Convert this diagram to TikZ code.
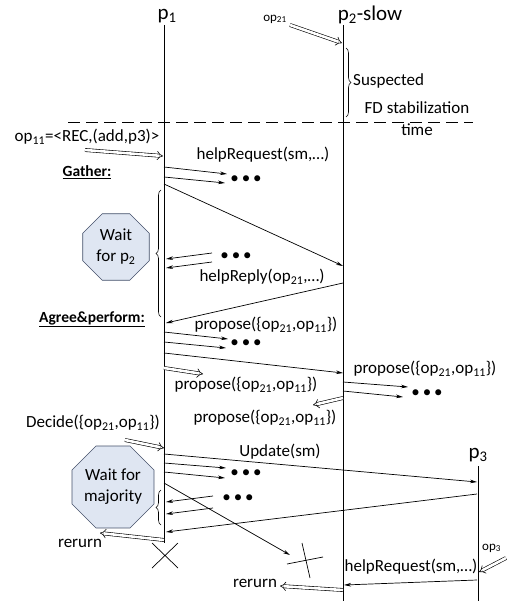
\documentclass[tikz,border=0pt]{standalone}
\usepackage{fontspec}
\setmainfont{Carlito}
\usetikzlibrary{arrows.meta,shapes.geometric,decorations.pathreplacing}
\definecolor{waitfill}{HTML}{DFE6F2}
\definecolor{waitborder}{HTML}{44506A}
\tikzset{
  msg/.style={->,line width=0.7pt},
  inp/.style={double,double distance=2.6pt,line width=0.6pt,-{Implies[scale=1.4]}},
  life/.style={line width=0.7pt},
  txt/.style={inner sep=0pt,font=\fontsize{17}{20}\selectfont},
  small/.style={inner sep=0pt,font=\fontsize{13}{15}\selectfont},
  head/.style={inner sep=0pt,font=\fontsize{21}{24}\selectfont},
  phase/.style={inner sep=0pt,font=\fontsize{15.5}{18}\bfseries},
  dots/.style={inner sep=0pt,font=\fontsize{17}{19}\selectfont},
  waitbox/.style={regular polygon,regular polygon sides=8,draw=waitborder,fill=waitfill,
    line width=0.6pt,inner sep=0pt,align=center,font=\fontsize{17}{21}\selectfont},
  brc/.style={decorate,decoration={brace,amplitude=5pt},line width=0.6pt}
}
\newcommand{\three}{\textbullet\hspace{3pt}\textbullet\hspace{3pt}\textbullet}
\begin{document}
\begin{tikzpicture}[>={Stealth[length=7pt,width=3.6pt]},x=1pt,y=-1pt]
\useasboundingbox (0,0) rectangle (506,601);
% processes
\node[head](h1) at (167,16) {p\textsubscript{1}};
\node[head](h2) at (370,15) {p\textsubscript{2}-slow};
\node[head](h3) at (478,455) {p\textsubscript{3}};
\coordinate (p1t) at (164,25); \coordinate (p1b) at (164,543);
\coordinate (p2t) at (343,25); \coordinate (p2b) at (343,601);
\coordinate (p3t) at (478,466); \coordinate (p3b) at (478,601);
\draw[life] (p1t) -- (p1b); \draw[life] (p2t) -- (p2b); \draw[life] (p3t) -- (p3b);
% stabilization
\coordinate (dl) at (68,122); \coordinate (dr) at (473,122);
\draw[line width=0.6pt,dash pattern=on 12pt off 6pt] (dl) -- (dr);
\coordinate (s1) at (346,48); \coordinate (s2) at (346,117);
\draw[brc] (s1) -- (s2);
\node[txt,anchor=west](susp) at (353,81) {Suspected};
\node[txt](fd) at (417,108) {FD stabilization};
\node[txt](tm) at (417,130) {time};
% inputs
\node[small](op21) at (275,19) {op\textsubscript{21}};
\coordinate (a1) at (290,25); \coordinate (a2) at (342,43);
\path (a1) edge[inp] (a2);
\node[txt](op11) at (87,137) {op\textsubscript{11}=<REC,(add,p3)>};
\coordinate (b1) at (85,150); \coordinate (b2) at (163,156);
\path (b1) edge[inp] (b2);
% gather
\node[phase](g) at (87,172) {\underline{Gather:}};
\node[txt](hr1) at (263,155) {helpRequest(sm,…)};
\coordinate (m1) at (164,167); \coordinate (m1e) at (227,174);
\coordinate (m2) at (164,177); \coordinate (m2e) at (225,183);
\coordinate (m3) at (164,184); \coordinate (m3e) at (343,266);
\path (m1) edge[msg] (m1e) (m2) edge[msg] (m2e) (m3) edge[msg] (m3e);
\node[dots](d1) at (246,180) {\three};
\coordinate (w1) at (161,317); \coordinate (w2) at (161,190);
\draw[brc] (w1) -- (w2);
\node[waitbox,minimum size=72pt](wp2) at (116,247) {Wait\\for p\textsubscript{2}};
\coordinate (m4) at (212,253); \coordinate (m4e) at (166,259);
\coordinate (m5) at (212,262); \coordinate (m5e) at (166,268);
\path (m4) edge[msg] (m4e) (m5) edge[msg] (m5e);
\node[dots](d2) at (236,257) {\three};
\node[txt](hrp) at (262,277) {helpReply(op\textsubscript{21},…)};
\coordinate (m6) at (343,283); \coordinate (m6e) at (166,323);
\path (m6) edge[msg] (m6e);
% agree and perform
\node[phase](ap) at (92,319) {\underline{Agree\&perform:}};
\node[txt](pr1) at (266,325) {propose(\{op\textsubscript{21},op\textsubscript{11}\})};
\coordinate (m7) at (164,332); \coordinate (m7e) at (228,339);
\coordinate (m8) at (164,342); \coordinate (m8e) at (226,348);
\coordinate (m9) at (164,353); \coordinate (m9e) at (343,373);
\path (m7) edge[msg] (m7e) (m8) edge[msg] (m8e) (m9) edge[msg] (m9e);
\node[dots](d3) at (246,344) {\three};
\node[txt](pr2) at (425,369) {propose(\{op\textsubscript{21},op\textsubscript{11}\})};
\coordinate (c1) at (164,368); \coordinate (c2) at (203,374);
\path (c1) edge[inp] (c2);
\node[txt](pr3) at (246,385) {propose(\{op\textsubscript{21},op\textsubscript{11}\})};
\coordinate (m10) at (343,382); \coordinate (m10e) at (408,387);
\coordinate (m11) at (343,391); \coordinate (m11e) at (403,397);
\path (m10) edge[msg] (m10e) (m11) edge[msg] (m11e);
\node[dots](d4) at (427,394) {\three};
\coordinate (e1) at (343,398); \coordinate (e2) at (313,405);
\path (e1) edge[inp] (e2);
\node[txt](pr4) at (265,418) {propose(\{op\textsubscript{21},op\textsubscript{11}\})};
% decide
\node[txt](dec) at (93,423) {Decide(\{op\textsubscript{21},op\textsubscript{11}\})};
\coordinate (f1) at (125,440); \coordinate (f2) at (164,448);
\path (f1) edge[inp] (f2);
\node[txt](upd) at (280,452) {Update(sm)};
\coordinate (m12) at (164,454); \coordinate (m12e) at (477,482);
\coordinate (m13) at (164,463); \coordinate (m13e) at (226,468);
\coordinate (m14) at (164,472); \coordinate (m14e) at (225,478);
\coordinate (m15) at (164,483); \coordinate (m15e) at (290,555);
\path (m12) edge[msg] (m12e) (m13) edge[msg] (m13e) (m14) edge[msg] (m14e) (m15) edge[msg] (m15e);
\node[dots](d5) at (246,474) {\three};
\node[waitbox,minimum size=82pt](wmj) at (113,487) {Wait for\\majority};
\coordinate (v1) at (161,525); \coordinate (v2) at (161,490);
\draw[brc] (v1) -- (v2);
\coordinate (m16) at (213,496); \coordinate (m16e) at (166,502);
\coordinate (m17) at (213,508); \coordinate (m17e) at (166,514);
\coordinate (m18) at (477,494); \coordinate (m18e) at (166,532);
\path (m16) edge[msg] (m16e) (m17) edge[msg] (m17e) (m18) edge[msg] (m18e);
\node[dots](d6) at (238,499) {\three};
\coordinate (r1) at (164,540); \coordinate (r2) at (100,533);
\path (r1) edge[inp] (r2);
\node[txt](rr1) at (80,543) {rerurn};
% crashes
\coordinate (x1) at (152,543); \coordinate (x2) at (178,568);
\coordinate (x3) at (152,568); \coordinate (x4) at (178,543);
\draw[line width=0.7pt] (x1) -- (x2) (x3) -- (x4);
\coordinate (y1) at (287,564); \coordinate (y2) at (323,557);
\coordinate (y3) at (302,543); \coordinate (y4) at (310,578);
\draw[line width=0.7pt] (y1) -- (y2) (y3) -- (y4);
% p3 joins
\node[small,anchor=west](op3) at (482,548) {op\textsubscript{3}};
\coordinate (g1) at (506,558); \coordinate (g2) at (479,572);
\path (g1) edge[inp] (g2);
\node[txt](hr2) at (411,567) {helpRequest(sm,…)};
\coordinate (m19) at (477,580); \coordinate (m19e) at (344,585);
\path (m19) edge[msg] (m19e);
\coordinate (h1a) at (343,590); \coordinate (h1b) at (280,586);
\path (h1a) edge[inp] (h1b);
\node[txt](rr2) at (255,583) {rerurn};
\end{tikzpicture}
\end{document}
